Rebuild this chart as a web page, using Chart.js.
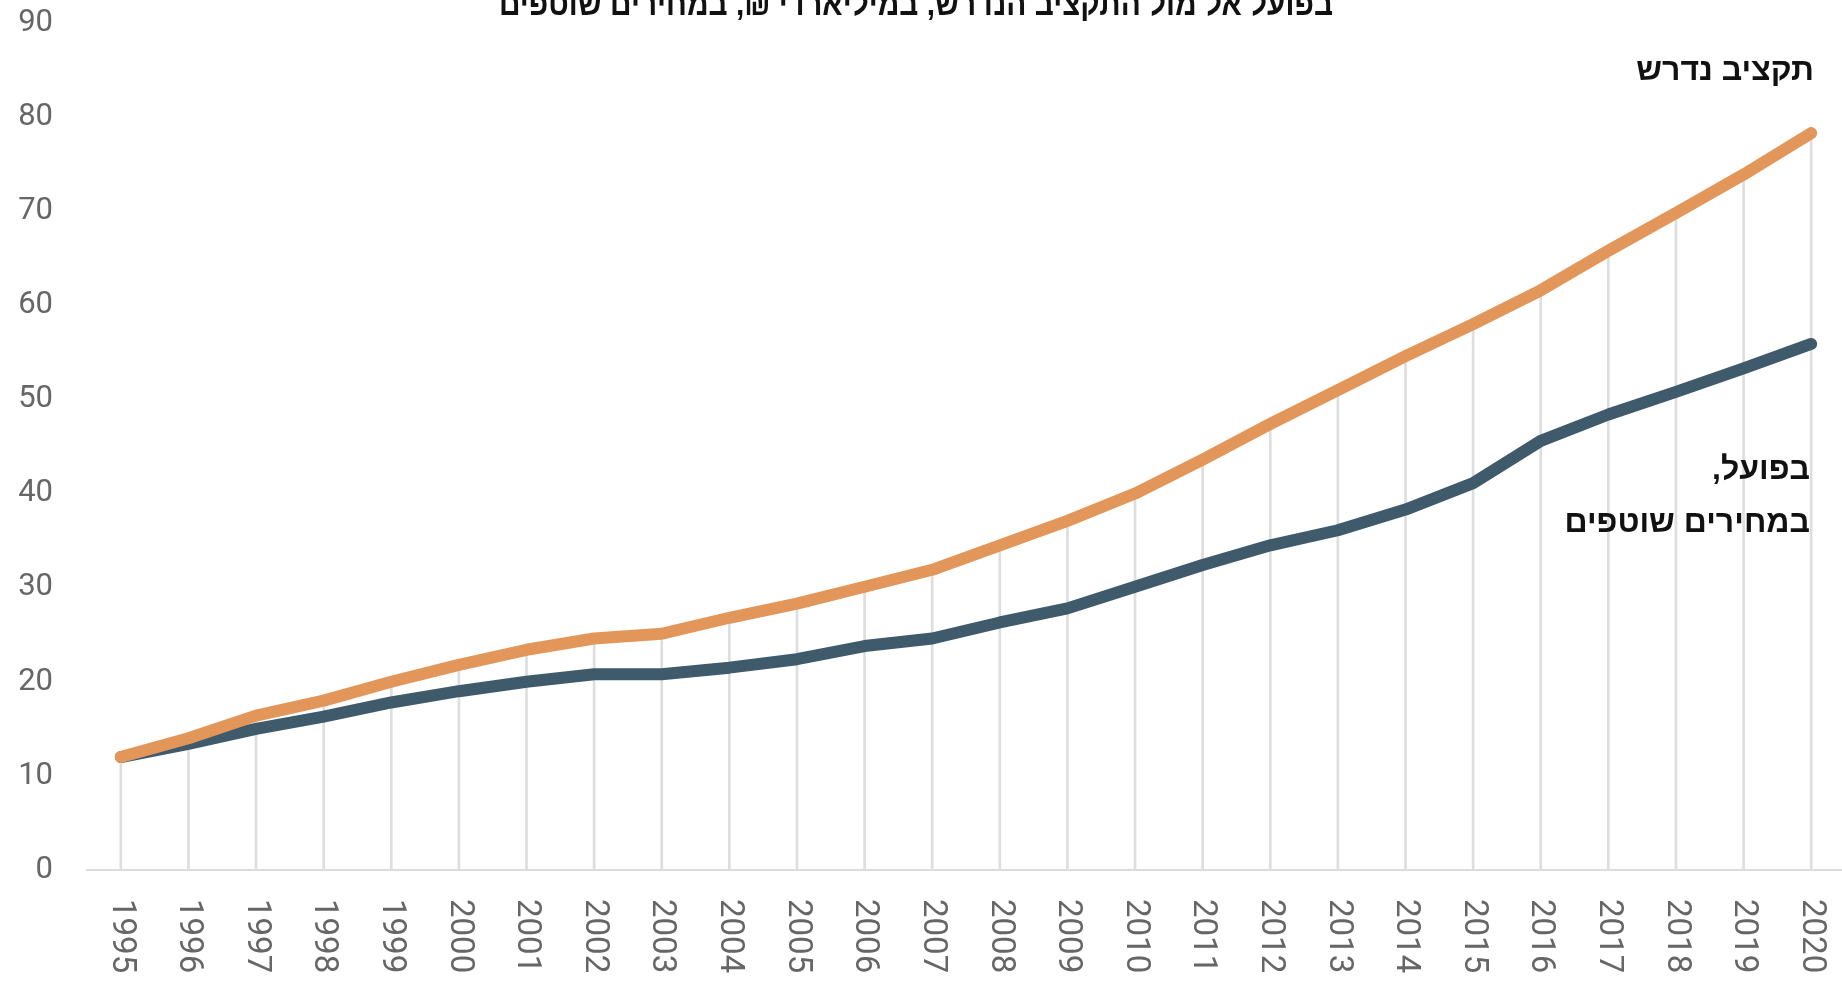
<!DOCTYPE html>
<html lang="he">
<head>
<meta charset="utf-8">
<title>תקציב נדרש מול בפועל</title>
<script src="https://cdn.jsdelivr.net/npm/chart.js@4.4.1/dist/chart.umd.min.js"></script>
<style>
    html, body { margin: 0; padding: 0; background: #fff; overflow: hidden; }
    #wrap { position: relative; width: 1845px; height: 981px; }
</style>
</head>
<body>
<div id="wrap"><canvas id="budgetChart"></canvas></div>
<script>
// Data
const years = ['1995', '1996', '1997', '1998', '1999', '2000', '2001', '2002', '2003', '2004',
    '2005', '2006', '2007', '2008', '2009', '2010', '2011', '2012', '2013', '2014',
    '2015', '2016', '2017', '2018', '2019', '2020'];
const required = [12, 14.0, 16.4, 18.0, 20.0, 21.8, 23.4, 24.6, 25.1, 26.8,
    28.3, 30.1, 31.9, 34.5, 37.1, 40.0, 43.6, 47.4, 51.0, 54.6,
    58.0, 61.6, 65.8, 69.8, 73.9, 78.3];
const actual = [12, 13.4, 15.0, 16.3, 17.8, 19.0, 20.0, 20.8, 20.8, 21.5,
    22.4, 23.8, 24.6, 26.3, 27.8, 30.1, 32.4, 34.5, 36.1, 38.3,
    41.1, 45.6, 48.4, 50.8, 53.3, 55.9];
const yTicks = [0, 10, 20, 30, 40, 50, 60, 70, 80, 90];

const titleText = 'בפועל אל מול התקציב הנדרש, במיליארדי ₪, במחירים שוטפים';
const requiredLabel = 'תקציב נדרש';
const actualLabel = ['בפועל,', 'במחירים שוטפים'];

const orange = '#E3965A';
const slate = '#3E5A6B';
const baseFont = "Roboto, 'Liberation Sans', sans-serif";

// texts + rotated year labels
const textPlugin = {
    id: 'texts',
    afterDraw(chart) {
        const ctx = chart.ctx;
        const x = chart.scales.x;

        // year labels, reading top to bottom
        ctx.save();
        ctx.fillStyle = '#666';
        ctx.font = '33px ' + baseFont;
        ctx.textAlign = 'left';
        ctx.textBaseline = 'middle';
        years.forEach((y, i) => {
            ctx.save();
            ctx.translate(x.getPixelForTick(i), 899);
            ctx.rotate(Math.PI / 2);
            ctx.fillText(y, 0, 0);
            ctx.restore();
        });
        ctx.restore();

        // title (cut off at the top)
        ctx.save();
        ctx.direction = 'rtl';
        ctx.fillStyle = '#111';
        ctx.font = "bold 33px 'Liberation Sans Narrow', 'Liberation Sans', sans-serif";
        ctx.textAlign = 'center';
        ctx.textBaseline = 'alphabetic';
        const w = ctx.measureText(titleText).width;
        ctx.translate(916, 15);
        ctx.scale(834 / w, 1);
        ctx.fillText(titleText, 0, 0);
        ctx.restore();

        // series labels
        ctx.save();
        ctx.direction = 'rtl';
        ctx.fillStyle = '#111';
        ctx.font = "bold 32px 'Liberation Sans', sans-serif";
        ctx.textAlign = 'right';
        ctx.fillText(requiredLabel, 1814, 80);
        ctx.fillText(actualLabel[0], 1810, 479);
        ctx.fillText(actualLabel[1], 1810, 532);
        ctx.restore();
    }
};

const ctx = document.getElementById('budgetChart').getContext('2d');
const budgetChart = new Chart(ctx, {
    type: 'line',
    data: {
        labels: years,
        datasets: [
            {
                label: requiredLabel,
                data: required,
                borderColor: orange,
                borderWidth: 12,
                borderCapStyle: 'round',
                borderJoinStyle: 'round',
                pointRadius: 0,
                tension: 0,
                clip: false,
                order: 0
            },
            {
                label: actualLabel.join(' '),
                data: actual,
                borderColor: slate,
                borderWidth: 12,
                borderCapStyle: 'round',
                borderJoinStyle: 'round',
                pointRadius: 0,
                tension: 0,
                clip: false,
                order: 1
            },
            {
                // drop lines from the required budget to the axis
                type: 'bar',
                data: required,
                backgroundColor: '#dedede',
                barThickness: 2,
                order: 2
            }
        ]
    },
    options: {
        responsive: true,
        maintainAspectRatio: false,
        animation: false,
        layout: {
            padding: 0
        },
        plugins: {
            legend: { display: false },
            tooltip: { enabled: false },
            title: { display: false }
        },
        scales: {
            x: {
                offset: true,
                grid: { display: false },
                border: { display: true, color: '#dcdcdc', width: 2 },
                ticks: { display: false },
                afterFit: (s) => { s.height = 111; }
            },
            y: {
                min: 0,
                max: 90,
                afterBuildTicks: (s) => { s.ticks = yTicks.map(v => ({ value: v })); },
                grid: { display: false, drawTicks: false },
                border: { display: false },
                ticks: {
                    color: '#666',
                    padding: 34,
                    font: { family: baseFont, size: 31 }
                },
                afterFit: (s) => { s.width = 87; s.paddingTop = 23; s.paddingBottom = 0; }
            }
        }
    },
    plugins: [textPlugin]
});
</script>
</body>
</html>
